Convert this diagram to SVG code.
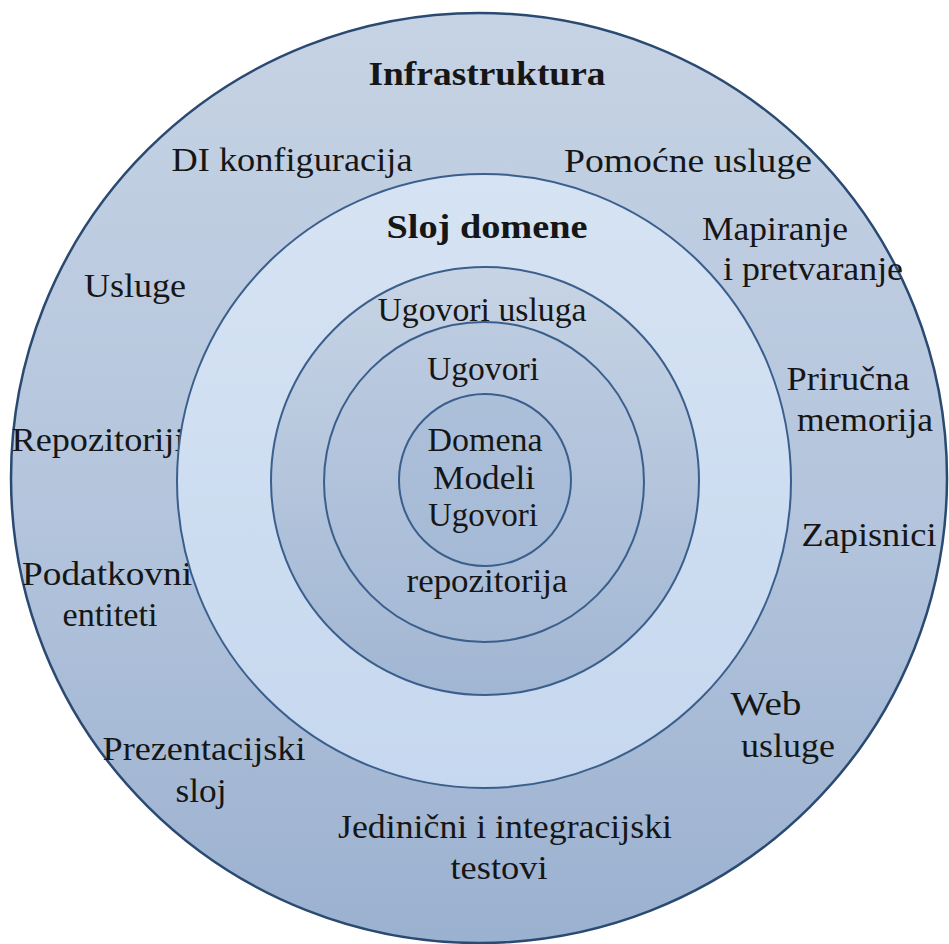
<svg xmlns="http://www.w3.org/2000/svg" width="949" height="944" viewBox="0 0 949 944" font-family="Liberation Serif, DejaVu Serif, serif">
<style>
.ring{stroke:#3b5f8c;stroke-width:2}
.outer{stroke:#2a4a72;stroke-width:2.5}
text{font-size:33px;fill:#161616;text-anchor:middle}
.b{font-weight:bold}
</style>
<defs>
<linearGradient id="g1" x1="0" y1="0" x2="0" y2="1">
<stop offset="0" stop-color="#c6d3e4"/><stop offset="0.55" stop-color="#b3c4dc"/><stop offset="1" stop-color="#9bb1d0"/>
</linearGradient>
<linearGradient id="g2" x1="0" y1="0" x2="0" y2="1">
<stop offset="0" stop-color="#d6e3f3"/><stop offset="1" stop-color="#c6d8ef"/>
</linearGradient>
<linearGradient id="g3" x1="0" y1="0" x2="0" y2="1">
<stop offset="0" stop-color="#c7d4e5"/><stop offset="1" stop-color="#a1b6d3"/>
</linearGradient>
<linearGradient id="g4" x1="0" y1="0" x2="0" y2="1">
<stop offset="0" stop-color="#bccbe0"/><stop offset="1" stop-color="#a6bad6"/>
</linearGradient>
<linearGradient id="g5" x1="0" y1="0" x2="0" y2="1">
<stop offset="0" stop-color="#adc0da"/><stop offset="1" stop-color="#a5bad6"/>
</linearGradient>
</defs>
<rect width="949" height="944" fill="#ffffff"/>
<g id="infrastruktura">
<ellipse class="outer" cx="479" cy="478" rx="468" ry="465" fill="url(#g1)"/>
<text class="b" x="487" y="85" textLength="237" lengthAdjust="spacingAndGlyphs">Infrastruktura</text>
<text x="292" y="171" textLength="241" lengthAdjust="spacingAndGlyphs">DI konfiguracija</text>
<text x="688" y="172" textLength="248" lengthAdjust="spacingAndGlyphs">Pomoćne usluge</text>
<text x="775" y="240" textLength="146" lengthAdjust="spacingAndGlyphs">Mapiranje</text>
<text x="813" y="280" textLength="180" lengthAdjust="spacingAndGlyphs">i pretvaranje</text>
<text x="135" y="297" textLength="102" lengthAdjust="spacingAndGlyphs">Usluge</text>
<text x="848" y="390" textLength="123" lengthAdjust="spacingAndGlyphs">Priručna</text>
<text x="865" y="431" textLength="136" lengthAdjust="spacingAndGlyphs">memorija</text>
<text x="98" y="451" textLength="173" lengthAdjust="spacingAndGlyphs">Repozitoriji</text>
<text x="869" y="546" textLength="135" lengthAdjust="spacingAndGlyphs">Zapisnici</text>
<text x="107" y="585" textLength="170" lengthAdjust="spacingAndGlyphs">Podatkovni</text>
<text x="110" y="626" textLength="95" lengthAdjust="spacingAndGlyphs">entiteti</text>
<text x="766" y="715" textLength="71" lengthAdjust="spacingAndGlyphs">Web</text>
<text x="788" y="757" textLength="94" lengthAdjust="spacingAndGlyphs">usluge</text>
<text x="204" y="760" textLength="203" lengthAdjust="spacingAndGlyphs">Prezentacijski</text>
<text x="201" y="802" textLength="51" lengthAdjust="spacingAndGlyphs">sloj</text>
<text x="505" y="838" textLength="334" lengthAdjust="spacingAndGlyphs">Jedinični i integracijski</text>
<text x="499" y="879" textLength="97" lengthAdjust="spacingAndGlyphs">testovi</text>
</g>
<g id="sloj-domene">
<circle class="ring" cx="484" cy="481" r="307" fill="url(#g2)"/>
<text class="b" x="487" y="238" textLength="201" lengthAdjust="spacingAndGlyphs">Sloj domene</text>
</g>
<g id="ugovori-usluga">
<circle class="ring" cx="485" cy="481" r="214" fill="url(#g3)"/>
<text x="482" y="321" textLength="209" lengthAdjust="spacingAndGlyphs">Ugovori usluga</text>
</g>
<g id="ugovori-repozitorija">
<circle class="ring" cx="484" cy="482" r="160" fill="url(#g4)"/>
<text x="483" y="380" textLength="112" lengthAdjust="spacingAndGlyphs">Ugovori</text>
<text x="487" y="592" textLength="161" lengthAdjust="spacingAndGlyphs">repozitorija</text>
</g>
<g id="domena-modeli">
<circle class="ring" cx="485" cy="480" r="86" fill="url(#g5)"/>
<text x="485" y="451" textLength="115" lengthAdjust="spacingAndGlyphs">Domena</text>
<text x="484" y="489" textLength="102" lengthAdjust="spacingAndGlyphs">Modeli</text>
<text x="483" y="526" textLength="110" lengthAdjust="spacingAndGlyphs">Ugovori</text>
</g>
<g id="connectors"/>
</svg>
